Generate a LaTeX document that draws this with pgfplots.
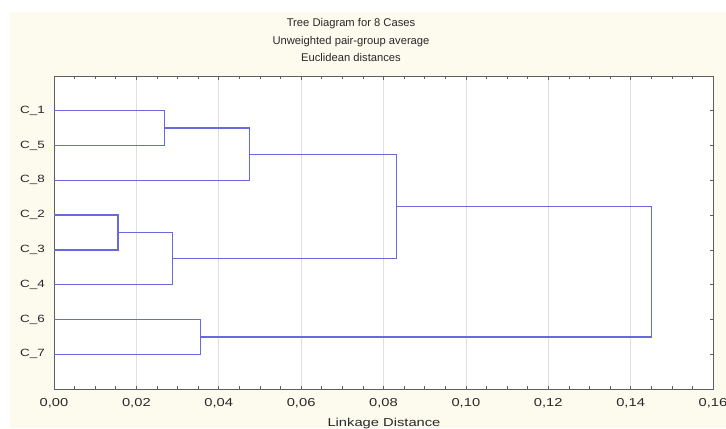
\documentclass[border=0pt]{standalone}
\usepackage{fontspec}
\setmainfont{Liberation Sans}
\newfontfamily\widefont{Liberation Sans}[FakeStretch=1.28]
\usepackage{pgfplots}
\pgfplotsset{compat=1.18}
\definecolor{panel}{RGB}{253,251,238}
\definecolor{tree}{RGB}{105,105,222}
\definecolor{frame}{RGB}{95,95,95}
\definecolor{gridc}{RGB}{222,222,228}
\definecolor{txt}{RGB}{40,40,40}
\begin{document}
\begin{tikzpicture}[x=1bp,y=1bp]
\fill[panel] (10,0) rectangle (726,416);
\begin{axis}[
  at={(54bp,39bp)}, anchor=south west,
  scale only axis, width=659bp, height=313bp,
  xmin=0, xmax=0.16, ymin=0, ymax=9, y dir=reverse,
  axis background/.style={fill=white},
  xtick={0,0.02,...,0.161},
  minor x tick num=3,
  xmajorgrids, major grid style={gridc, line width=0.6bp},
  ytick={1,...,8},
  yticklabels={C\_1,C\_5,C\_8,C\_2,C\_3,C\_4,C\_6,C\_7},
  ytick pos=right, yticklabel pos=left,
  xtick pos=both,
  tick align=inside,
  major tick length=3.5bp, minor tick length=3bp,
  axis line style={frame, line width=1bp},
  tick style={frame, line width=0.6bp},
  /pgf/number format/assume math mode=true,
  /pgf/number format/fixed, /pgf/number format/fixed zerofill,
  /pgf/number format/precision=2, /pgf/number format/use comma,
  scaled x ticks=false,
  xticklabel style={font=\fontsize{11.5bp}{13bp}\widefont, text=txt, anchor=north, inner sep=0pt, yshift=-9bp},
  yticklabel style={font=\fontsize{10.5bp}{12bp}\widefont, text=txt, anchor=east, inner sep=0pt, xshift=-9bp},
  clip=false,
]
\addplot[tree, line width=1.4bp] coordinates {(0,1) (0.0268,1) (0.0268,2) (0,2)};
\addplot[tree, line width=1.4bp] coordinates {(0,4) (0.0155,4) (0.0155,5) (0,5)};
\addplot[tree, line width=1.4bp] coordinates {(0.0268,1.5) (0.0475,1.5) (0.0475,3) (0,3)};
\addplot[tree, line width=1.4bp] coordinates {(0.0155,4.5) (0.0288,4.5) (0.0288,6) (0,6)};
\addplot[tree, line width=1.4bp] coordinates {(0,7) (0.0356,7) (0.0356,8) (0,8)};
\addplot[tree, line width=1.4bp] coordinates {(0.0475,2.25) (0.0831,2.25) (0.0831,5.25) (0.0288,5.25)};
\addplot[tree, line width=1.4bp] coordinates {(0.0831,3.75) (0.145,3.75) (0.145,7.5) (0.0356,7.5)};
\end{axis}
\node[anchor=base, inner sep=0pt, text=txt, font=\fontsize{11.2bp}{13bp}\selectfont] at (351,401.7) {Tree Diagram for 8 Cases};
\node[anchor=base, inner sep=0pt, text=txt, font=\fontsize{11.2bp}{13bp}\selectfont] at (351,384) {Unweighted pair-group average};
\node[anchor=base, inner sep=0pt, text=txt, font=\fontsize{11.2bp}{13bp}\selectfont] at (351,366.7) {Euclidean distances};
\node[anchor=base, inner sep=0pt, text=txt, font=\fontsize{11.5bp}{13bp}\widefont] at (384,1.5) {Linkage Distance};
\pgfresetboundingbox
\path (0,0) rectangle (726,428);
\end{tikzpicture}
\end{document}
